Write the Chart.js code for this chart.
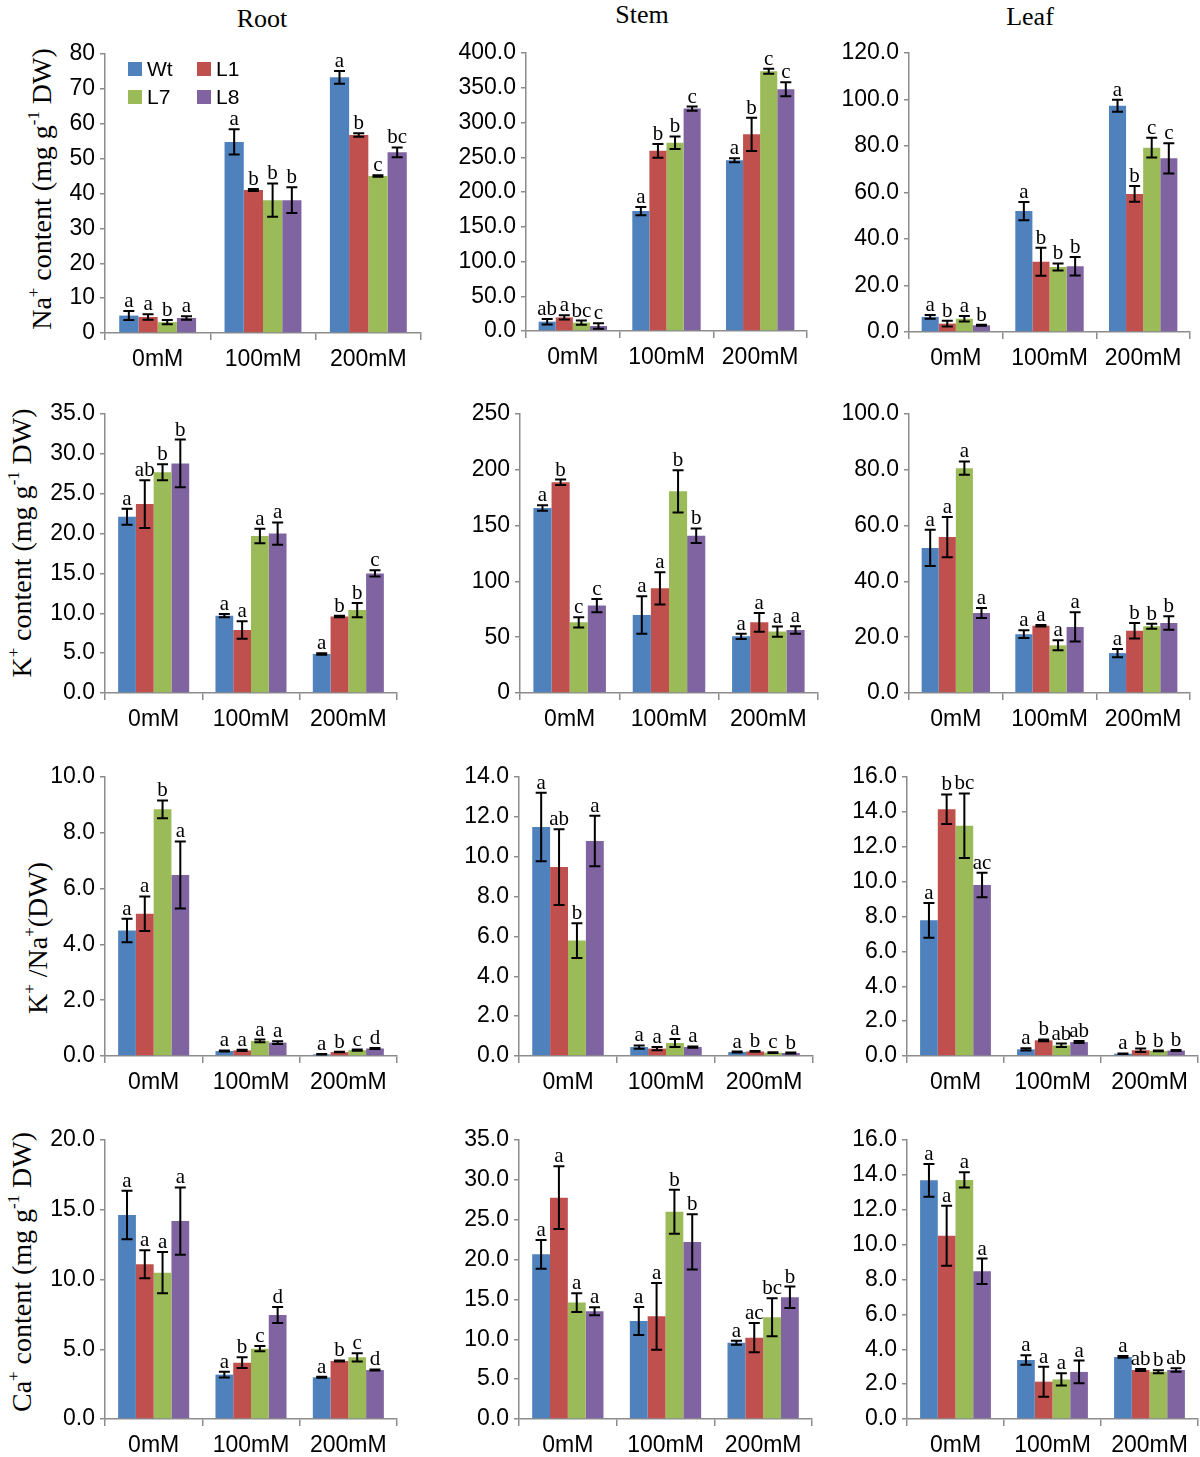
<!DOCTYPE html>
<html>
<head>
<meta charset="utf-8">
<script src="https://cdn.jsdelivr.net/npm/chart.js@4/dist/chart.umd.min.js"></script>
<style>
	body { margin: 0; background: #fff; width: 1200px; height: 1457px; overflow: hidden; position: relative; }
	canvas { position: absolute; }
	.head { position: absolute; font: 26px 'Liberation Serif', serif; transform: translate(-50%, -50%); }
	.ytitle { position: absolute; font: 28px 'Liberation Serif', serif; white-space: nowrap; transform: translate(-50%, -50%) rotate(-90deg); }
	.ytitle sup { font-size: 0.6em; vertical-align: 0.7em; line-height: 0; }
</style>
</head>
<body>
<div class="head" style="left:262px;top:19px">Root</div>
<div class="head" style="left:642px;top:15px">Stem</div>
<div class="head" style="left:1030px;top:17px">Leaf</div>
<div class="ytitle" style="left:42px;top:189px">Na<sup>+</sup> content (mg g<sup>-1</sup> DW)</div>
<div class="ytitle" style="left:22px;top:543px">K<sup>+</sup> content (mg g<sup>-1</sup> DW)</div>
<div class="ytitle" style="left:38px;top:938px">K<sup>+</sup> /Na<sup>+</sup>(DW)</div>
<div class="ytitle" style="left:22px;top:1272px">Ca<sup>+</sup> content (mg g<sup>-1</sup> DW)</div>

<script>
// categories and lines
const categories = ['0mM', '100mM', '200mM'];
const lines = ['Wt', 'L1', 'L7', 'L8'];
const colors = ['#4f81bd', '#c0504d', '#9bbb59', '#8064a2'];

// each array: one row per line (Wt, L1, L7, L8), one value per category

// Na+ content
const rootNa = [[5.0, 54.8, 73.3], [4.6, 41.0, 56.8], [3.1, 38.1, 45.0], [4.3, 38.1, 51.8]];
const rootNaErr = [[1.3, 3.6, 1.8], [0.8, 0.3, 0.5], [0.6, 4.8, 0.2], [0.5, 3.7, 1.4]];
const rootNaSig = [['a', 'a', 'a'], ['a', 'b', 'b'], ['b', 'b', 'c'], ['a', 'b', 'bc']];

const stemNa = [[13.4, 172.5, 245.7], [19.6, 259.2, 283.0], [12.0, 271.0, 373.7], [7.2, 320.0, 347.8]];
const stemNaErr = [[4, 6, 3], [3, 10, 24], [3, 9, 3.5], [4, 3, 10]];
const stemNaSig = [['ab', 'a', 'a'], ['a', 'b', 'b'], ['bc', 'b', 'c'], ['c', 'c', 'c']];

const leafNa = [[6.5, 52.0, 97.3], [3.6, 30.2, 59.4], [5.7, 28.0, 79.3], [2.9, 28.3, 74.7]];
const leafNaErr = [[0.8, 3.9, 2.6], [1.2, 6.0, 3.4], [1.2, 1.5, 4.2], [0.2, 4.0, 6.5]];
const leafNaSig = [['a', 'a', 'a'], ['b', 'b', 'b'], ['a', 'b', 'c'], ['b', 'b', 'c']];

// K+ content
const rootK = [[22.1, 9.7, 4.9], [23.7, 7.9, 9.6], [27.7, 19.7, 10.4], [28.8, 20.0, 15.0]];
const rootKErr = [[1.0, 0.2, 0.1], [3.0, 1.1, 0.1], [1.0, 0.9, 0.9], [3.0, 1.4, 0.4]];
const rootKSig = [['a', 'a', 'a'], ['ab', 'a', 'b'], ['b', 'a', 'b'], ['b', 'a', 'c']];

const stemK = [[165.8, 69.9, 50.8], [188.8, 93.8, 63.3], [63.3, 180.7, 55.0], [78.3, 141.0, 56.5]];
const stemKErr = [[2.5, 16.7, 2.4], [2.5, 14.5, 8.4], [4.5, 19.0, 4.5], [6.0, 6.5, 3.3]];
const stemKSig = [['a', 'a', 'a'], ['b', 'a', 'a'], ['c', 'b', 'a'], ['c', 'b', 'a']];

const leafK = [[52.0, 21.1, 14.3], [55.9, 24.1, 22.3], [80.6, 17.1, 23.9], [28.7, 23.7, 25.1]];
const leafKErr = [[6.5, 1.4, 1.5], [7.2, 0.3, 2.8], [2.4, 1.8, 0.9], [1.8, 5.2, 2.4]];
const leafKSig = [['a', 'a', 'a'], ['a', 'a', 'b'], ['a', 'a', 'b'], ['a', 'a', 'b']];

// K+/Na+ ratio
const rootRatio = [[4.5, 0.18, 0.06], [5.1, 0.2, 0.14], [8.84, 0.54, 0.21], [6.49, 0.48, 0.27]];
const rootRatioErr = [[0.42, 0.02, 0.01], [0.62, 0.02, 0.01], [0.32, 0.05, 0.02], [1.2, 0.05, 0.02]];
const rootRatioSig = [['a', 'a', 'a'], ['a', 'a', 'b'], ['b', 'a', 'c'], ['a', 'a', 'd']];

const stemRatio = [[11.49, 0.45, 0.2], [9.48, 0.37, 0.23], [5.79, 0.65, 0.17], [10.79, 0.45, 0.15]];
const stemRatioErr = [[1.72, 0.08, 0.02], [1.9, 0.08, 0.02], [0.87, 0.2, 0.02], [1.27, 0.03, 0.02]];
const stemRatioSig = [['a', 'a', 'a'], ['ab', 'a', 'b'], ['b', 'a', 'c'], ['a', 'a', 'b']];

const leafRatio = [[7.78, 0.38, 0.13], [14.15, 0.9, 0.33], [13.21, 0.61, 0.29], [9.81, 0.8, 0.31]];
const leafRatioErr = [[1.0, 0.06, 0.02], [0.85, 0.05, 0.1], [1.85, 0.1, 0.02], [0.7, 0.06, 0.03]];
const leafRatioSig = [['a', 'a', 'a'], ['b', 'b', 'b'], ['bc', 'ab', 'b'], ['ac', 'ab', 'b']];

// Ca+ content
const rootCa = [[14.62, 3.18, 2.99], [11.09, 4.04, 4.16], [10.49, 5.04, 4.42], [14.19, 7.46, 3.51]];
const rootCaErr = [[1.74, 0.21, 0.04], [1.0, 0.38, 0.04], [1.48, 0.19, 0.29], [2.41, 0.57, 0.04]];
const rootCaSig = [['a', 'a', 'a'], ['a', 'b', 'b'], ['a', 'c', 'c'], ['a', 'd', 'd']];

const stemCa = [[20.66, 12.3, 9.58], [27.77, 12.88, 10.2], [14.6, 26.01, 12.76], [13.51, 22.21, 15.27]];
const stemCaErr = [[1.8, 1.76, 0.25], [3.93, 4.18, 1.84], [1.17, 2.76, 2.38], [0.5, 3.47, 1.34]];
const stemCaSig = [['a', 'a', 'a'], ['a', 'a', 'ac'], ['a', 'b', 'bc'], ['a', 'b', 'b']];

const leafCa = [[13.69, 3.38, 3.56], [10.51, 2.14, 2.81], [13.71, 2.27, 2.71], [8.47, 2.7, 2.81]];
const leafCaErr = [[0.94, 0.27, 0.05], [1.72, 0.86, 0.06], [0.44, 0.35, 0.08], [0.73, 0.65, 0.1]];
const leafCaSig = [['a', 'a', 'a'], ['a', 'a', 'ab'], ['a', 'a', 'b'], ['a', 'a', 'ab']];

// y axis: max, step, decimals
const panels = [
	{ vals: rootNa, err: rootNaErr, sig: rootNaSig, max: 80, step: 10, dec: 0, box: [105, 54, 421, 333], legend: true },
	{ vals: stemNa, err: stemNaErr, sig: stemNaSig, max: 400, step: 50, dec: 1, box: [526, 53, 807, 331] },
	{ vals: leafNa, err: leafNaErr, sig: leafNaSig, max: 120, step: 20, dec: 1, box: [909, 53, 1190, 332] },
	{ vals: rootK, err: rootKErr, sig: rootKSig, max: 35, step: 5, dec: 1, box: [105, 414, 397, 693] },
	{ vals: stemK, err: stemKErr, sig: stemKSig, max: 250, step: 50, dec: 0, box: [520, 414, 818, 693] },
	{ vals: leafK, err: leafKErr, sig: leafKSig, max: 100, step: 20, dec: 1, box: [909, 414, 1190, 693] },
	{ vals: rootRatio, err: rootRatioErr, sig: rootRatioSig, max: 10, step: 2, dec: 1, box: [105, 777, 397, 1056] },
	{ vals: stemRatio, err: stemRatioErr, sig: stemRatioSig, max: 14, step: 2, dec: 1, box: [519, 777, 813, 1056] },
	{ vals: leafRatio, err: leafRatioErr, sig: leafRatioSig, max: 16, step: 2, dec: 1, box: [907, 777, 1198, 1056] },
	{ vals: rootCa, err: rootCaErr, sig: rootCaSig, max: 20, step: 5, dec: 1, box: [105, 1140, 397, 1419] },
	{ vals: stemCa, err: stemCaErr, sig: stemCaSig, max: 35, step: 5, dec: 1, box: [519, 1140, 812, 1419] },
	{ vals: leafCa, err: leafCaErr, sig: leafCaSig, max: 16, step: 2, dec: 1, box: [907, 1140, 1198, 1419] },
];

const axisGray = '#8c8c8c';
const tickFont = { family: "'Liberation Sans', Arial, sans-serif", size: 23 };
const padTop = 20, padRight = 8, yW = 105, xH = 52;

// error bars + significance letters
const errorBars = {
	id: 'errorBars',
	afterDatasetsDraw(chart, args, opts) {
		const ctx = chart.ctx;
		const y = chart.scales.y;
		ctx.save();
		ctx.strokeStyle = '#000';
		ctx.lineWidth = 2;
		ctx.fillStyle = '#000';
		ctx.font = "21px 'Liberation Serif', serif";
		ctx.textAlign = 'center';
		ctx.textBaseline = 'alphabetic';
		chart.data.datasets.forEach((ds, i) => {
			const meta = chart.getDatasetMeta(i);
			meta.data.forEach((bar, j) => {
				const v = ds.data[j];
				const e = opts.err[i][j];
				const top = y.getPixelForValue(v + e);
				const bot = y.getPixelForValue(Math.max(0, v - e));
				ctx.beginPath();
				ctx.moveTo(bar.x, top);
				ctx.lineTo(bar.x, bot);
				ctx.moveTo(bar.x - 5.5, top);
				ctx.lineTo(bar.x + 5.5, top);
				ctx.moveTo(bar.x - 5.5, bot);
				ctx.lineTo(bar.x + 5.5, bot);
				ctx.stroke();
				ctx.fillText(opts.sig[i][j], bar.x, top - 4);
			});
		});
		ctx.restore();
	},
};

// legend inside the first panel, 2 x 2
const innerLegend = {
	id: 'innerLegend',
	afterDraw(chart, args, opts) {
		if (!opts.show) return;
		const ctx = chart.ctx;
		const a = chart.chartArea;
		ctx.save();
		ctx.font = "21px 'Liberation Sans', Arial, sans-serif";
		ctx.textBaseline = 'middle';
		ctx.textAlign = 'left';
		chart.data.datasets.forEach((ds, i) => {
			const bx = a.left + 23 + (i % 2) * 69;
			const by = a.top + 8 + Math.floor(i / 2) * 28;
			ctx.fillStyle = ds.backgroundColor;
			ctx.fillRect(bx, by, 14, 14);
			ctx.fillStyle = '#000';
			ctx.fillText(ds.label, bx + 19, by + 8);
		});
		ctx.restore();
	},
};

panels.forEach((p) => {
	const [l, t, r, b] = p.box;
	const canvas = document.createElement('canvas');
	canvas.width = r - l + yW + padRight;
	canvas.height = b - t + padTop + xH;
	canvas.style.left = l - yW + 'px';
	canvas.style.top = t - padTop + 'px';
	document.body.appendChild(canvas);

	new Chart(canvas, {
		type: 'bar',
		data: {
			labels: categories,
			datasets: lines.map((name, i) => ({
				label: name,
				data: p.vals[i],
				backgroundColor: colors[i],
				borderWidth: 0,
				categoryPercentage: 0.73,
				barPercentage: 1.0,
			})),
		},
		options: {
			responsive: false,
			animation: false,
			layout: { padding: { top: padTop, right: padRight, left: 0, bottom: 0 } },
			plugins: {
				legend: { display: false },
				tooltip: { enabled: false },
				errorBars: { err: p.err, sig: p.sig },
				innerLegend: { show: !!p.legend },
			},
			scales: {
				x: {
					grid: { offset: true, drawOnChartArea: false, tickLength: 7, color: axisGray, lineWidth: 1.5 },
					border: { color: axisGray, width: 1.5 },
					ticks: { font: tickFont, color: '#000', padding: 6, maxRotation: 0 },
					afterFit: (s) => { s.height = xH; },
				},
				y: {
					min: 0,
					max: p.max,
					grid: { drawOnChartArea: false, tickLength: 5, color: axisGray, lineWidth: 1.5 },
					border: { color: axisGray, width: 1.5 },
					ticks: {
						stepSize: p.step,
						autoSkip: false,
						font: tickFont,
						color: '#000',
						padding: 5,
						callback: (v) => v.toFixed(p.dec),
					},
					afterFit: (s) => { s.width = yW; },
				},
			},
		},
		plugins: [errorBars, innerLegend],
	});
});
</script>
</body>
</html>
